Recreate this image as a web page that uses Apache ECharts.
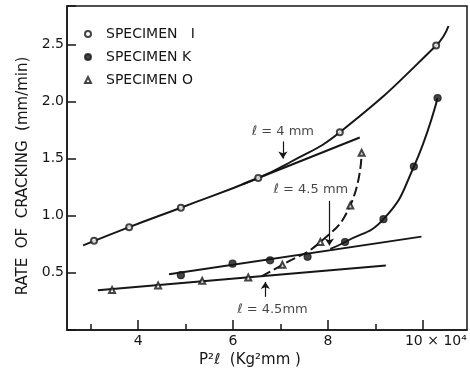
<!DOCTYPE html>
<html>
<head>
<meta charset="utf-8">
<script src="https://cdn.jsdelivr.net/npm/echarts@6/dist/echarts.min.js"></script>
<style>
    html, body {margin: 0; padding: 0; background: #fff;}
    #chart {width: 470px; height: 373px;}
</style>
</head>
<body>
<div id="chart"></div>
<script>
// Measured points (x = P²ℓ in 10^4 Kg²mm, y = rate of cracking in mm/min)
const specimenI = [[3.07, 0.78], [3.81, 0.90], [4.90, 1.07], [6.53, 1.33], [8.25, 1.73], [10.28, 2.49]];
const specimenK = [[4.90, 0.48], [5.99, 0.58], [6.78, 0.61], [7.57, 0.64], [8.36, 0.77], [9.17, 0.97], [9.81, 1.43], [10.31, 2.03]];
const specimenO = [[3.45, 0.35], [4.42, 0.39], [5.35, 0.43], [6.32, 0.46], [7.04, 0.57], [7.84, 0.77], [8.47, 1.09], [8.71, 1.55]];

// Hand-drawn curves and straight lines
const curveI = [[2.84, 0.74], [3.81, 0.90], [4.90, 1.07], [6.53, 1.33], [7.21, 1.47], [8.25, 1.73], [10.28, 2.49], [10.54, 2.66]];
const tangentI = [[6.20, 1.275], [8.67, 1.684]];
const curveK = [[8.05, 0.71], [8.36, 0.77], [9.17, 0.97], [9.81, 1.43], [10.31, 2.03]];
const lineK = [[4.65, 0.487], [9.97, 0.817]];
const lineO = [[3.15, 0.348], [9.22, 0.565]];
const curveO = [[6.60, 0.47], [7.04, 0.57], [7.84, 0.77], [8.47, 1.09], [8.71, 1.55]];

// Annotations: text label position and arrow (from, to)
const noteLabels = [[7.05, 1.74, 'ℓ = 4 mm'], [7.64, 1.226, 'ℓ = 4.5 mm'], [6.83, 0.176, 'ℓ = 4.5mm']];
const noteArrows = [[[7.05, 1.65], [7.05, 1.50]], [[8.03, 1.13], [8.03, 0.74]], [[6.68, 0.29], [6.68, 0.42]]];

// Axes
const xMajorTicks = [4, 6, 8, 10];
const xMinorTicks = [3, 5, 7, 9];
const xTickLabels = ['4', '6', '8', '{b|10 × 10⁴}'];
const yTickLabels = ['', '0.5', '1.0', '1.5', '2.0', '2.5'];

const legendNames = ['SPECIMEN   I', 'SPECIMEN K', 'SPECIMEN O'];

const INK = '#161616';
const FONT = 'DejaVu Sans';

function lineSeries(name, data, extra) {
    return Object.assign({
        name: name,
        type: 'line',
        data: data,
        symbol: 'none',
        showSymbol: false,
        smooth: false,
        lineStyle: {color: INK, width: 2},
        z: 2,
        silent: true,
        animation: false
    }, extra || {});
}

function pointSeries(name, data, symbol, size) {
    return {
        name: name,
        type: 'scatter',
        data: data,
        symbol: symbol,
        symbolSize: size,
        itemStyle: {color: INK, borderColor: INK, borderWidth: 1.2},
        z: 5,
        silent: true,
        animation: false
    };
}

const options = {
    backgroundColor: '#fff',
    textStyle: {fontFamily: FONT, color: INK},
    grid: {
        left: 67, right: 3, top: 6, bottom: 41,
        show: true, borderColor: INK, borderWidth: 1.5
    },
    legend: {
        orient: 'vertical',
        left: 84, top: 26,
        padding: 0,
        itemWidth: 6, itemHeight: 6, itemGap: 7,
        selectedMode: false,
        textStyle: {fontFamily: FONT, fontSize: 14, lineHeight: 16, color: INK, padding: [0, 0, 0, 10]},
        data: [
            {name: legendNames[0], icon: 'emptyCircle', itemStyle: {color: INK, borderColor: INK, borderWidth: 1.2}},
            {name: legendNames[1], icon: 'circle', itemStyle: {color: INK}},
            {name: legendNames[2], icon: 'emptyTriangle', itemStyle: {color: INK, borderColor: INK, borderWidth: 1}}
        ]
    },
    xAxis: [{
        type: 'value',
        min: 2.5, max: 10.93,
        name: 'P²ℓ  (Kg²mm )',
        nameLocation: 'middle',
        nameGap: 23,
        nameTextStyle: {fontFamily: FONT, fontSize: 15, color: INK, padding: [0, 34, 0, 0]},
        axisLine: {lineStyle: {color: INK, width: 1.5}},
        axisTick: {inside: true, length: 10, customValues: xMajorTicks, lineStyle: {color: INK, width: 1.5}},
        axisLabel: {
            customValues: xMajorTicks,
            margin: 4,
            fontFamily: FONT, fontSize: 14, color: INK,
            formatter: (v) => xTickLabels[xMajorTicks.indexOf(v)],
            rich: {b: {fontFamily: FONT, fontSize: 14, color: INK, padding: [0, 0, 0, 26]}}
        },
        splitLine: {show: false}
    }, {
        type: 'value',
        position: 'bottom',
        min: 2.5, max: 10.93,
        axisLine: {show: false},
        axisTick: {inside: true, length: 6, customValues: xMinorTicks, lineStyle: {color: INK, width: 1.5}},
        axisLabel: {show: false},
        splitLine: {show: false}
    }],
    yAxis: {
        type: 'value',
        min: 0, max: 2.835, interval: 0.5,
        name: 'RATE  OF  CRACKING  (mm/min)',
        nameLocation: 'middle',
        nameGap: 32,
        nameTextStyle: {fontFamily: FONT, fontSize: 15, color: INK, padding: [0, 16, 0, 0]},
        axisLine: {lineStyle: {color: INK, width: 1.5}},
        axisTick: {inside: true, length: 9, lineStyle: {color: INK, width: 1.5}},
        axisLabel: {
            margin: 3,
            fontFamily: FONT, fontSize: 14, color: INK,
            formatter: (v) => {
                const i = Math.round(v / 0.5);
                return Math.abs(i * 0.5 - v) < 1e-6 ? (yTickLabels[i] || '') : '';
            }
        },
        splitLine: {show: false}
    },
    series: [
        lineSeries('curve I', curveI, {smooth: 0.5}),
        lineSeries('tangent I', tangentI),
        lineSeries('curve K', curveK, {smooth: 0.5}),
        lineSeries('line K', lineK),
        lineSeries('line O', lineO),
        lineSeries('curve O', curveO, {smooth: 0.5, lineStyle: {color: INK, width: 2, type: [10, 4]}}),
        pointSeries(legendNames[0], specimenI, 'emptyCircle', 6),
        pointSeries(legendNames[1], specimenK, 'circle', 7),
        pointSeries(legendNames[2], specimenO, 'emptyTriangle', 6),
        {
            name: 'notes',
            type: 'scatter',
            data: noteLabels,
            symbolSize: 0,
            silent: true,
            animation: false,
            label: {
                show: true,
                position: 'inside',
                fontFamily: FONT, fontSize: 13, color: INK,
                formatter: (p) => p.value[2]
            },
            markLine: {
                silent: true,
                animation: false,
                symbol: ['none', 'arrow'],
                symbolSize: 7,
                label: {show: false},
                lineStyle: {color: INK, width: 1.2, type: 'solid'},
                data: noteArrows.map((a) => [{coord: a[0]}, {coord: a[1]}])
            }
        }
    ]
};

const myChart = echarts.init(document.getElementById('chart'), null, {renderer: 'canvas'});
myChart.setOption(options);
</script>
</body>
</html>
